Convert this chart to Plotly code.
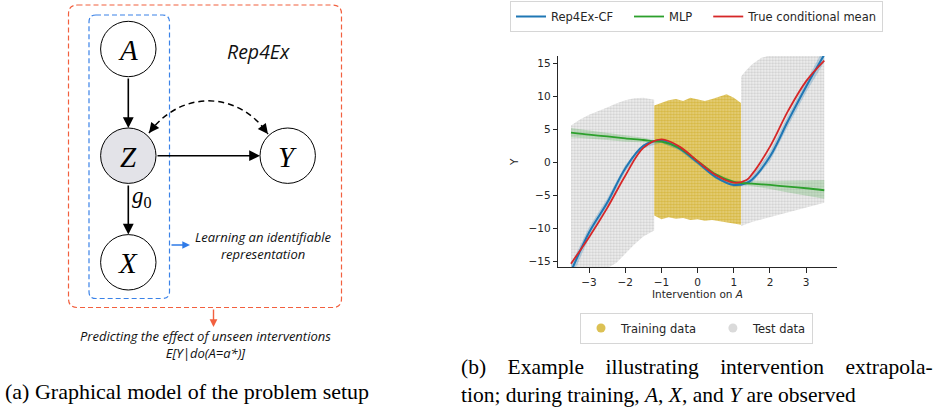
import plotly.graph_objects as go

# ---------------- data ----------------
TRUE_A = [-3.5, -3.0, -2.5, -2.0, -1.5, -1.0, -0.5, 0.0, 0.5, 1.0, 1.35, 1.5, 2.0, 2.5, 3.0, 3.5]
TRUE_MEAN = [-15.3, -11.3, -6.9, -2.0, 2.2, 3.5, 2.4, 0.2, -1.9, -3.05, -2.65, -1.8, 2.4, 7.8, 12.3, 15.4]

REP_A = [-3.5, -3.0, -2.5, -2.0, -1.5, -1.0, -0.5, 0.0, 0.5, 1.0, 1.35, 1.5, 2.0, 2.5, 3.0, 3.5]
REP4EX = [-16.5, -10.6, -6.1, -0.9, 2.5, 3.3, 2.1, 0.0, -2.2, -3.4, -3.1, -2.6, 0.9, 6.3, 11.5, 16.3]
REP4EX_LO = [-17.6, -11.4, -6.7, -1.4, 2.2, 3.0, 1.8, -0.3, -2.5, -3.7, -3.5, -3.1, 0.2, 5.5, 10.6, 15.2]
REP4EX_HI = [-15.4, -9.8, -5.5, -0.4, 2.8, 3.6, 2.4, 0.3, -1.9, -3.1, -2.7, -2.1, 1.6, 7.1, 12.4, 17.4]

MLP_A = [-3.5, -3.0, -2.5, -2.0, -1.5, -1.2, -1.0, -0.5, 0.0, 0.5, 1.0, 1.2, 1.5, 2.0, 2.5, 3.0, 3.5]
MLP = [4.5, 4.2, 3.95, 3.65, 3.4, 3.2, 3.15, 2.2, 0.2, -1.8, -2.95, -3.1, -3.2, -3.4, -3.65, -3.9, -4.2]
MLP_HI = [5.2, 4.85, 4.5, 4.15, 3.75, 3.4, 3.35, 2.4, 0.4, -1.6, -2.75, -2.9, -2.85, -2.8, -2.75, -2.7, -2.65]
MLP_LO = [3.8, 3.6, 3.4, 3.15, 3.0, 3.0, 2.95, 2.0, 0.0, -2.0, -3.15, -3.3, -3.55, -4.0, -4.55, -5.05, -5.5]

TRAIN_A = [-1.2, -1.0, -0.8, -0.6, -0.4, -0.2, 0.0, 0.2, 0.4, 0.6, 0.8, 1.0, 1.2]
TRAIN_UP = [8.6, 9.0, 9.4, 9.6, 9.3, 9.8, 9.6, 9.3, 9.6, 9.9, 10.3, 9.8, 9.0]
TRAIN_LO = [-8.0, -8.6, -8.3, -8.5, -8.4, -8.7, -8.6, -8.8, -8.7, -8.9, -9.0, -9.2, -9.4]

TEST_LEFT_A = [-3.5, -3.25, -3.0, -2.75, -2.5, -2.25, -2.0, -1.75, -1.5, -1.2]
TEST_LEFT_UP = [5.6, 6.5, 7.2, 7.7, 8.3, 8.9, 9.4, 9.7, 9.8, 9.5]
TEST_LEFT_LO = [-16.0, -16.0, -16.0, -16.0, -16.0, -15.2, -13.8, -12.4, -11.2, -10.3]

TEST_RIGHT_A = [1.2, 1.35, 1.5, 1.75, 2.0, 2.5, 3.0, 3.5]
TEST_RIGHT_UP = [13.0, 14.0, 14.8, 15.8, 16.2, 16.2, 16.2, 16.2]
TEST_RIGHT_LO = [-9.6, -9.3, -9.0, -8.6, -8.3, -7.6, -6.8, -6.1]

X_TICKS = [-3, -2, -1, 0, 1, 2, 3]
Y_TICKS = [-15, -10, -5, 0, 5, 10, 15]

# ---------------- helpers for pixel placement ----------------
W, H = 937, 408


def px(x):
    return x / W


def py(y):
    return 1 - y / H


BLUE = "#1f77b4"
GREEN = "#2ca02c"
RED = "#d62728"
YELLOW = "#dcc154"
FONT = "DejaVu Sans"
SERIF = "Liberation Serif"
HAND = "Open Sans"

fig = go.Figure()


def band(xs, lo, hi, color):
    fig.add_trace(go.Scatter(x=xs + xs[::-1], y=hi + lo[::-1], fill="toself",
                             mode="lines", line=dict(width=0), fillcolor=color,
                             showlegend=False, hoverinfo="skip"))


def cloud(xs, lo, hi, color, bg, size, solidity):
    fig.add_trace(go.Scatter(x=xs + xs[::-1], y=hi + lo[::-1], fill="toself",
                             mode="lines", line=dict(width=0), fillcolor=bg,
                             fillpattern=dict(shape=".", fgcolor=color, bgcolor=bg,
                                              size=size, solidity=solidity),
                             showlegend=False, hoverinfo="skip"))


cloud(TEST_LEFT_A, TEST_LEFT_LO, TEST_LEFT_UP, "#d0d0d0", "#f0f0f0", 3, 0.45)
cloud(TEST_RIGHT_A, TEST_RIGHT_LO, TEST_RIGHT_UP, "#d0d0d0", "#f0f0f0", 3, 0.45)
cloud(TRAIN_A, TRAIN_LO, TRAIN_UP, "#d6b842", "#e6d07e", 3, 0.5)

band(MLP_A, MLP_LO, MLP_HI, "rgba(44,160,44,0.22)")
band(REP_A, REP4EX_LO, REP4EX_HI, "rgba(31,119,180,0.25)")

NB = "\u00a0"
fig.add_trace(go.Scatter(x=REP_A, y=REP4EX, mode="lines", name="Rep4Ex-CF" + NB * 3,
                         line=dict(color=BLUE, width=2, shape="spline", smoothing=1.0),
                         legend="legend"))
fig.add_trace(go.Scatter(x=MLP_A, y=MLP, mode="lines", name="MLP" + NB * 3,
                         line=dict(color=GREEN, width=1.8, shape="spline", smoothing=0.8),
                         legend="legend"))
fig.add_trace(go.Scatter(x=TRUE_A, y=TRUE_MEAN, mode="lines", name="True conditional mean",
                         line=dict(color=RED, width=1.8, shape="spline", smoothing=1.0),
                         legend="legend"))

# legend proxies for the point clouds
fig.add_trace(go.Scatter(x=[None], y=[None], mode="markers", name="Training data" + NB * 3,
                         marker=dict(color=YELLOW, size=9), legend="legend2"))
fig.add_trace(go.Scatter(x=[None], y=[None], mode="markers", name="Test data",
                         marker=dict(color="#dadada", size=9), legend="legend2"))

# ---------------- diagram (panel a) ----------------
shapes = []
ann = []


def text(x, y, s, family, size, color="black", xa="center", ya="middle", **kw):
    ann.append(dict(x=px(x), y=py(y), xref="paper", yref="paper", text=s, showarrow=False,
                    xanchor=xa, yanchor=ya, font=dict(family=family, size=size, color=color), **kw))


def rrect(x0, y0, x1, y1, r, color):
    pts = [("M", [(x0 + r, y0)]), ("L", [(x1 - r, y0)]), ("Q", [(x1, y0), (x1, y0 + r)]),
           ("L", [(x1, y1 - r)]), ("Q", [(x1, y1), (x1 - r, y1)]), ("L", [(x0 + r, y1)]),
           ("Q", [(x0, y1), (x0, y1 - r)]), ("L", [(x0, y0 + r)]), ("Q", [(x0, y0), (x0 + r, y0)])]
    path = " ".join(c + " " + " ".join(f"{px(a):.5f},{py(b):.5f}" for a, b in p) for c, p in pts) + " Z"
    shapes.append(dict(type="path", path=path, xref="paper", yref="paper",
                       line=dict(color=color, width=1.2, dash="5px,3px")))


rrect(68.5, 5, 341.5, 307.5, 9, "#f2603f")
rrect(89, 15, 169.5, 298.5, 7, "#3a82e8")

R = 27.7
for cx, cy, lab, fill in [(128.3, 49, "A", "white"), (128.3, 155.7, "Z", "#e3e3e8"),
                          (287.7, 155.7, "Y", "white"), (128.3, 262.3, "X", "white")]:
    shapes.append(dict(type="circle", xref="paper", yref="paper",
                       x0=px(cx - R), x1=px(cx + R), y0=py(cy + R), y1=py(cy - R),
                       line=dict(color="black", width=1), fillcolor=fill))
    text(cx, cy + 1, f"<i>{lab}</i>", SERIF, 29)

# dashed bidirected curve Z <-> Y
p0, c1, c2, p1 = (149, 133), (180, 90), (238, 90), (268, 134)
shapes.append(dict(type="path", xref="paper", yref="paper",
                   path=f"M {px(p0[0])},{py(p0[1])} C {px(c1[0])},{py(c1[1])} {px(c2[0])},{py(c2[1])} {px(p1[0])},{py(p1[1])}",
                   line=dict(color="black", width=1.5, dash="6px,4px")))


def arrow(tx, ty, hx, hy, color="black", width=1.6, size=1.35):
    ann.append(dict(x=px(hx), y=py(hy), xref="paper", yref="paper", ax=tx - hx, ay=ty - hy,
                    axref="pixel", ayref="pixel", text="", showarrow=True, arrowhead=2,
                    arrowsize=size, arrowwidth=width, arrowcolor=color, standoff=0))


arrow(128.3, 77, 128.3, 128)
arrow(156, 155.7, 260, 155.7)
arrow(128.3, 184, 128.3, 234.5)
arrow(156, 124, 149, 133, width=1.5)
arrow(261, 125, 268, 134, width=1.5)
arrow(170, 245, 190, 245, color="#2f7be8", width=1.4, size=1.1)
arrow(213.5, 308, 213.5, 327, color="#f2603f", width=1.4, size=1.1)

text(142, 197, "<i>g</i><sub>0</sub>", SERIF, 23)
TXT = "#111111"
text(258, 51, "<i>Rep4Ex</i>", HAND, 19.5, TXT)
text(263, 245, "<i>Learning an identifiable</i><br><i>representation</i>", HAND, 13, TXT)
text(205, 344, "<i>Predicting the effect of unseen interventions</i><br><i>E[Y|do(A=a*)]</i>", HAND, 13, TXT)

# captions
text(3, 391, "(a) Graphical model of the problem setup", SERIF, 22, xa="left")
text(459, 381, "(b)" + NB * 3 + " Example" + NB * 3 + " illustrating" + NB * 3 + " intervention" + NB * 3 + " extrapola-<br>"
     "tion; during training, <i>A</i>, <i>X</i>, and <i>Y</i> are observed", SERIF, 21.5, xa="left", align="left")

# axis titles of panel b
text(697.7, 294, "Intervention on <i>A</i>", FONT, 10.5, "#262626")
text(514, 162, "Y", FONT, 10.5, "#262626", textangle=-90)

axis_common = dict(showgrid=False, zeroline=False, showline=True, linecolor="#262626", linewidth=1.2,
                   ticks="outside", ticklen=4.5, tickwidth=1, tickcolor="#262626",
                   tickfont=dict(family=FONT, size=10.5, color="#262626"), automargin=False)

fig.update_layout(
    width=W, height=H, margin=dict(l=0, r=0, t=0, b=0, autoexpand=False),
    paper_bgcolor="white", plot_bgcolor="rgba(0,0,0,0)", template="none",
    xaxis=dict(domain=[px(558.3), px(837.3)], range=[-3.85, 3.86], tickvals=X_TICKS, **axis_common),
    yaxis=dict(domain=[py(267.3), py(56)], range=[-15.85, 16.1], tickvals=Y_TICKS, **axis_common),
    shapes=shapes, annotations=ann,
    legend=dict(orientation="h", x=px(510), y=py(1), xanchor="left", yanchor="top",
                bordercolor="#d6d6d6", borderwidth=1, bgcolor="white",
                font=dict(family=FONT, size=11.5, color="#262626"), itemwidth=30),
    legend2=dict(orientation="h", x=px(580), y=py(312.5), xanchor="left", yanchor="top",
                 bordercolor="#d6d6d6", borderwidth=1, bgcolor="white",
                 font=dict(family=FONT, size=11.5, color="#262626"), itemwidth=30),
    showlegend=True,
)

fig.write_html("out.html")
